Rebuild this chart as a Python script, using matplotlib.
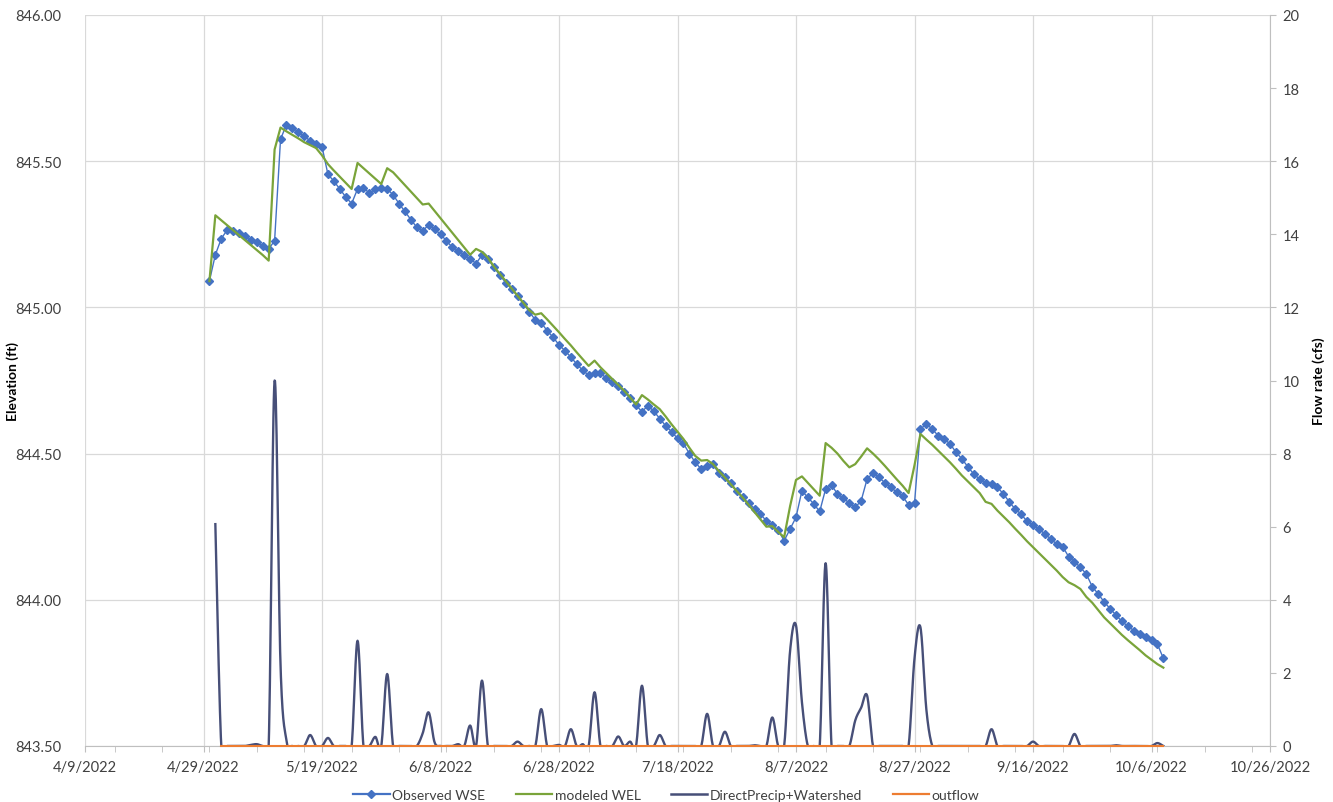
import numpy as np
import matplotlib
matplotlib.use('Agg')
import matplotlib.pyplot as plt
import matplotlib.dates as mdates
from matplotlib.ticker import FuncFormatter, MultipleLocator
from matplotlib.lines import Line2D

plt.rcParams['font.family'] = ['Lato', 'DejaVu Sans']

# daily series, first day 4/30/2022
start_day = np.datetime64('2022-04-30')

observed_wse = [
    845.09, 845.18, 845.235, 845.265, 845.262, 845.255, 845.245, 845.232, 845.222, 845.21,
    845.20, 845.228, 845.575, 845.625, 845.615, 845.60, 845.585, 845.57, 845.558, 845.55,
    845.455, 845.432, 845.405, 845.378, 845.355, 845.405, 845.41, 845.39, 845.405, 845.41,
    845.405, 845.385, 845.355, 845.328, 845.30, 845.274, 845.262, 845.282, 845.268, 845.25,
    845.228, 845.205, 845.194, 845.179, 845.166, 845.15, 845.179, 845.165, 845.138, 845.11,
    845.085, 845.063, 845.04, 845.012, 844.985, 844.957, 844.948, 844.92, 844.898, 844.872,
    844.852, 844.83, 844.806, 844.785, 844.768, 844.775, 844.776, 844.757, 844.744, 844.73,
    844.71, 844.69, 844.666, 844.643, 844.664, 844.645, 844.62, 844.595, 844.575, 844.552,
    844.535, 844.50, 844.47, 844.447, 844.459, 844.463, 844.432, 844.42, 844.40, 844.372,
    844.35, 844.33, 844.312, 844.293, 844.27, 844.255, 844.238, 844.202, 844.242, 844.282,
    844.373, 844.35, 844.328, 844.302, 844.379, 844.392, 844.362, 844.347, 844.331, 844.316,
    844.339, 844.413, 844.434, 844.419, 844.40, 844.385, 844.368, 844.354, 844.325, 844.33,
    844.584, 844.601, 844.584, 844.561, 844.55, 844.533, 844.505, 844.482, 844.455, 844.43,
    844.413, 844.398, 844.396, 844.385, 844.362, 844.335, 844.31, 844.293, 844.268, 844.256,
    844.242, 844.225, 844.208, 844.191, 844.182, 844.148, 844.13, 844.111, 844.088, 844.045,
    844.02, 843.993, 843.97, 843.948, 843.926, 843.91, 843.895, 843.882, 843.872, 843.862,
    843.848, 843.80,
]

modeled_wel = [
    845.09, 845.315, 845.298, 845.281, 845.264, 845.247, 845.23, 845.213, 845.196, 845.179,
    845.16, 845.54, 845.615, 845.602, 845.59, 845.578, 845.565, 845.555, 845.545, 845.52,
    845.49, 845.468, 845.447, 845.426, 845.405, 845.494, 845.476, 845.458, 845.44, 845.422,
    845.476, 845.462, 845.44, 845.418, 845.396, 845.374, 845.352, 845.355, 845.33, 845.305,
    845.28, 845.255, 845.23, 845.205, 845.18, 845.20, 845.19, 845.17, 845.14, 845.115,
    845.09, 845.065, 845.04, 845.015, 844.99, 844.975, 844.98, 844.959, 844.937, 844.915,
    844.892, 844.87, 844.846, 844.823, 844.80, 844.818, 844.795, 844.775, 844.755, 844.735,
    844.715, 844.692, 844.668, 844.70, 844.685, 844.668, 844.652, 844.627, 844.60, 844.575,
    844.55, 844.52, 844.492, 844.476, 844.478, 844.464, 844.44, 844.418, 844.395, 844.372,
    844.35, 844.325, 844.30, 844.275, 844.25, 844.252, 844.232, 844.214, 844.32, 844.41,
    844.422, 844.40, 844.378, 844.356, 844.536, 844.52, 844.50, 844.475, 844.453, 844.464,
    844.49, 844.518, 844.50, 844.48, 844.458, 844.435, 844.412, 844.39, 844.365, 844.46,
    844.567, 844.548, 844.53, 844.51, 844.49, 844.47, 844.448, 844.425, 844.405, 844.385,
    844.365, 844.335, 844.328, 844.305, 844.285, 844.265, 844.243, 844.222, 844.20, 844.18,
    844.16, 844.14, 844.12, 844.10, 844.078, 844.06, 844.05, 844.037, 844.01, 843.99,
    843.965, 843.94, 843.92, 843.90, 843.88, 843.862, 843.845, 843.828, 843.81, 843.795,
    843.78, 843.768,
]

# DirectPrecip+Watershed (cfs), no value on 4/30
inflow_cfs = [
    np.nan, 6.07, 0, 0, 0, 0, 0, 0.03, 0.05, 0,
    0, 10.0, 2.2, 0.15, 0, 0, 0, 0.3, 0, 0,
    0.22, 0, 0, 0, 0, 2.88, 0, 0, 0.25, 0,
    1.97, 0, 0, 0, 0, 0, 0.35, 0.92, 0.1, 0,
    0, 0, 0.05, 0, 0.56, 0, 1.79, 0, 0, 0,
    0, 0, 0.12, 0, 0, 0, 1.01, 0, 0, 0.03,
    0, 0.46, 0, 0.05, 0, 1.47, 0, 0, 0, 0.26,
    0, 0.12, 0, 1.65, 0, 0, 0.3, 0, 0, 0,
    0, 0, 0, 0, 0.88, 0, 0, 0.39, 0, 0,
    0, 0, 0.02, 0, 0, 0.78, 0, 0, 2.6, 3.3,
    1.2, 0, 0, 0, 5.0, 0, 0, 0, 0, 0.7,
    1.05, 1.38, 0, 0, 0, 0, 0, 0, 0, 2.4,
    3.25, 1.0, 0, 0, 0, 0, 0, 0, 0, 0,
    0, 0, 0.46, 0, 0, 0, 0, 0, 0, 0.12,
    0, 0, 0, 0, 0, 0, 0.33, 0, 0, 0,
    0, 0, 0, 0.02, 0, 0, 0, 0, 0, 0,
    0.08, 0,
]

outflow_cfs = [np.nan, np.nan] + [0.0] * 160

elev_ticks = [843.5, 844.0, 844.5, 845.0, 845.5, 846.0]
flow_ticks = [0, 2, 4, 6, 8, 10, 12, 14, 16, 18, 20]

days = start_day + np.arange(len(observed_wse))
xnum = mdates.date2num(days)


def smooth_line(x, y, n=16):
    # excel-like smoothed line (bezier through the points)
    ok = ~np.isnan(y)
    P = np.column_stack([x[ok], y[ok]])
    out = []
    for i in range(len(P) - 1):
        p0 = P[i - 1] if i > 0 else P[i]
        p1, p2 = P[i], P[i + 1]
        p3 = P[i + 2] if i + 2 < len(P) else P[i + 1]
        c1 = p1 + (p2 - p0) / 6
        c2 = p2 - (p3 - p1) / 6
        t = np.linspace(0, 1, n)[:, None]
        seg = ((1 - t) ** 3) * p1 + 3 * ((1 - t) ** 2) * t * c1 + 3 * (1 - t) * t ** 2 * c2 + t ** 3 * p2
        out.append(seg if i == 0 else seg[1:])
    S = np.vstack(out)
    return S[:, 0], S[:, 1]


fig = plt.figure(figsize=(13.33, 8.03), dpi=100)
fig.subplots_adjust(left=85 / 1333, right=1270 / 1333, top=1 - 16 / 803, bottom=1 - 747 / 803)
ax = fig.add_subplot(111)
ax2 = ax.twinx()

c_obs = '#4472C4'
c_mod = '#7AA43A'
c_in = '#474F78'
c_out = '#ED7D31'

ax.plot(xnum, observed_wse, color=c_obs, lw=1.0, marker='D', ms=3.6,
        markerfacecolor=c_obs, markeredgecolor=c_obs, zorder=3)
ax.plot(xnum, modeled_wel, color=c_mod, lw=1.6, zorder=4)

sx, sy = smooth_line(xnum, np.array(inflow_cfs, dtype=float))
ax2.plot(sx, sy, color=c_in, lw=1.7, zorder=3)
ax2.plot(xnum, outflow_cfs, color=c_out, lw=1.5, zorder=4, clip_on=False)

x0 = mdates.date2num(np.datetime64('2022-04-09'))
x1 = mdates.date2num(np.datetime64('2022-10-26'))
ax.set_xlim(x0, x1)
ax.set_ylim(843.5, 846.0)
ax2.set_ylim(0, 20)

ax.set_xticks(np.arange(x0, x1 + 1, 20))
ax.xaxis.set_minor_locator(MultipleLocator(8))
ax.xaxis.set_major_formatter(FuncFormatter(
    lambda v, p: '{d.month}/{d.day}/{d.year}'.format(d=mdates.num2date(v))))
ax.set_yticks(elev_ticks)
ax.yaxis.set_major_formatter(FuncFormatter(lambda v, p: f'{v:.2f}'))
ax2.set_yticks(flow_ticks)

grid_c = '#D9D9D9'
ax.grid(True, color=grid_c, lw=0.9)
ax.set_axisbelow(True)
for a in (ax, ax2):
    for s in a.spines.values():
        s.set_visible(False)
ax2.spines['right'].set_visible(True)
ax2.spines['right'].set_color('#BFBFBF')
ax2.spines['bottom'].set_visible(True)
ax2.spines['bottom'].set_color('#BFBFBF')

ax.tick_params(axis='x', which='both', length=4, color='#BFBFBF', labelsize=10.5,
               labelcolor='#404040', pad=6)
ax.tick_params(axis='y', length=0, labelsize=10.5, labelcolor='#404040', pad=17)
ax2.tick_params(axis='y', length=4, color='#BFBFBF', labelsize=10.5, labelcolor='#404040', pad=5)

ax.set_ylabel('Elevation (ft)', fontsize=10, fontweight='bold')
ax.yaxis.set_label_coords((19 - 85) / 1185, 0.5)
ax2.set_ylabel('Flow rate (cfs)', fontsize=10, fontweight='bold')
ax2.yaxis.set_label_coords((1312 - 85) / 1185, 0.5)

handles = [
    Line2D([], [], color=c_obs, lw=1.6, marker='D', ms=4),
    Line2D([], [], color=c_mod, lw=1.6),
    Line2D([], [], color=c_in, lw=1.8),
    Line2D([], [], color=c_out, lw=1.6),
]
labels = ['Observed WSE', 'modeled WEL', 'DirectPrecip+Watershed', 'outflow']
fig.legend(handles, labels, loc='lower center', bbox_to_anchor=(0.5, -0.014), ncol=4,
           frameon=False, fontsize=10, handlelength=2.6, columnspacing=2.2, handletextpad=0.2,
           labelcolor='#404040')

fig.savefig('out.png', dpi=100)
